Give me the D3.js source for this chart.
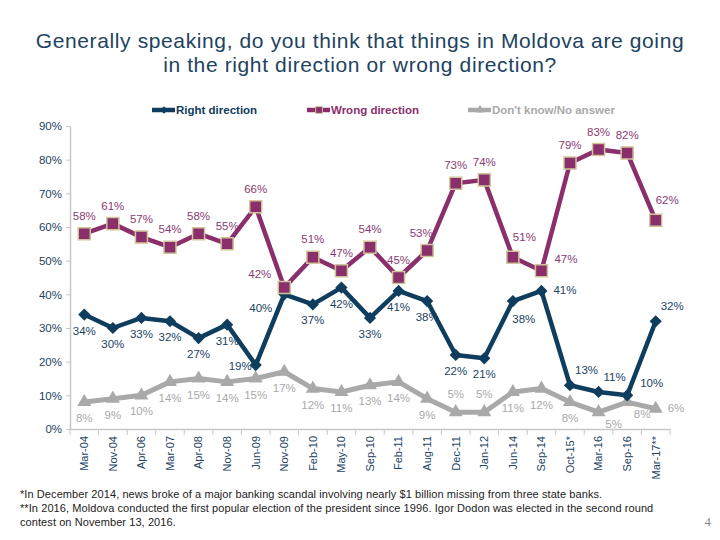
<!DOCTYPE html>
<html><head><meta charset="utf-8">
<script src="https://cdn.jsdelivr.net/npm/d3@7"></script>
<style>
body{margin:0;background:#fff;}
svg{display:block;font-family:"Liberation Sans",Arial,sans-serif;}
</style></head><body>
<svg id="chart" width="720" height="540"></svg>
<script>
const categories = ["Mar-04","Nov-04","Apr-06","Mar-07","Apr-08","Nov-08","Jun-09","Nov-09","Feb-10","May-10","Sep-10","Feb-11","Aug-11","Dec-11","Jan-12","Jun-14","Sep-14","Oct-15*","Mar-16","Sep-16","Mar-17**"];
const rightDirection = [34,30,33,32,27,31,19,40,37,42,33,41,38,22,21,38,41,13,11,10,32];
const wrongDirection = [58,61,57,54,58,55,66,42,51,47,54,45,53,73,74,51,47,79,83,82,62];
const dontKnow = [8,9,10,14,15,14,15,17,12,11,13,14,9,5,5,11,12,8,5,8,6];
const yTicks = [0,10,20,30,40,50,60,70,80,90];
const seriesNames = ["Right direction","Wrong direction","Don't know/No answer"];
// label placement codes
const rightLabelPos = ["b","b","b","b","b","b","l","bl","b","b","b","b","b","b","b","bR","r","ar","ar","ur","ar"];
const wrongLabelPos = ["a","a","a","a","a","a","a","al","a","a","a","a","aL","a","a","as","ur","a","a","a","as"];
const dkLabelPos    = ["b","b","b","b","b","b","b","b","b","b","b","b","b","a","a","b","b","b","br","br","r"];

(function(){
const svg = d3.select("#chart");
const navy = "#0e3d5e", purple = "#8a2f6c", grey = "#a9a9a9";
const pL = 70, pR = 670, pT = 126, pB = 429;

svg.append("text").attr("x",360).attr("y",48).attr("text-anchor","middle").attr("letter-spacing",0.62)
  .attr("fill","#1d4361").attr("font-size",21).text("Generally speaking, do you think that things in Moldova are going");
svg.append("text").attr("x",360).attr("y",72).attr("text-anchor","middle").attr("letter-spacing",0.62)
  .attr("fill","#1d4361").attr("font-size",21).text("in the right direction or wrong direction?");

const x = d3.scaleBand().domain(categories).range([pL,pR]);
const y = d3.scaleLinear().domain([0,90]).range([pB,pT]);
const cx = c => x(c) + x.bandwidth()/2;

// y axis
const yAxis = svg.append("g").attr("transform",`translate(${pL},0)`)
  .call(d3.axisLeft(y).tickValues(yTicks).tickFormat(d=>d+"%").tickSize(4).tickSizeOuter(0));
yAxis.select(".domain").attr("stroke","#c8c8c8").attr("stroke-width",1.5);
yAxis.selectAll(".tick line").attr("stroke","#c8c8c8");
yAxis.selectAll(".tick text").attr("fill","#1d4361").attr("font-size",11.5)
  .attr("font-family","'Liberation Sans',Arial,sans-serif").attr("x",-8);

// x axis
const xAxis = svg.append("g").attr("transform",`translate(0,${pB})`)
  .call(d3.axisBottom(x).tickSize(0).tickSizeOuter(0));
xAxis.select(".domain").attr("stroke","#c8c8c8").attr("stroke-width",1.5);
xAxis.selectAll(".tick text").attr("fill","#1d4361").attr("font-size",11)
  .attr("font-family","'Liberation Sans',Arial,sans-serif")
  .attr("transform","rotate(-90)").attr("text-anchor","end").attr("x",-7).attr("y",0).attr("dy","0.35em");
const bounds = categories.map(c=>x(c)).concat([pR]);
svg.append("g").selectAll("line").data(bounds).join("line")
  .attr("x1",d=>d).attr("x2",d=>d).attr("y1",pB).attr("y2",pB+6)
  .attr("stroke","#c8c8c8").attr("stroke-width",1);

const line = d3.line().x((d,i)=>cx(categories[i])).y(d=>y(d));

const placements = {
  a:  {dx:0,   dy:-14, anchor:"middle"},
  aL: {dx:-6,  dy:-14, anchor:"middle"},
  b:  {dx:0,   dy:20,  anchor:"middle"},
  bR: {dx:11,  dy:22,  anchor:"middle"},
  l:  {dx:-4,  dy:5,   anchor:"end"},
  r:  {dx:12,  dy:3,   anchor:"start"},
  al: {dx:-13, dy:-10, anchor:"end"},
  bl: {dx:-12, dy:18,  anchor:"end"},
  ar: {dx:5,   dy:-11, anchor:"start"},
  as: {dx:0,   dy:-16, anchor:"start"},
  ur: {dx:13,  dy:-8,  anchor:"start"},
  br: {dx:15,  dy:16,  anchor:"middle"}
};

function drawSeries(vals, color, symbolType, size, labelColor, pos, stroke, lw){
  const g = svg.append("g");
  g.append("path").datum(vals).attr("d",line).attr("fill","none")
    .attr("stroke",color).attr("stroke-width",lw).attr("stroke-linejoin","round");
  g.selectAll("path.m").data(vals).join("path").attr("class","m")
    .attr("d",d3.symbol().type(symbolType).size(size))
    .attr("transform",(d,i)=>`translate(${cx(categories[i])},${y(d)})`)
    .attr("fill",color).attr("stroke",stroke||"none").attr("stroke-width",stroke?1.5:0);
  g.selectAll("text").data(vals).join("text")
    .attr("x",(d,i)=>cx(categories[i])+placements[pos[i]].dx)
    .attr("y",(d,i)=>y(d)+placements[pos[i]].dy)
    .attr("text-anchor",(d,i)=>placements[pos[i]].anchor)
    .attr("fill",labelColor).attr("font-size",11.5)
    .text(d=>d+"%");
}
drawSeries(dontKnow, grey, d3.symbolTriangle, 85, "#a9a9a9", dkLabelPos, null, 5);
drawSeries(rightDirection, navy, d3.symbolDiamond2 || d3.symbolDiamond, 95, "#1a4363", rightLabelPos, null, 4.5);
drawSeries(wrongDirection, purple, d3.symbolSquare, 145, "#8a3a72", wrongLabelPos, "#cfc49a", 4.5);

// legend
const legendX = [152,307,468];
const legendColors = [navy,purple,grey];
const legendSymbols = [d3.symbolDiamond2 || d3.symbolDiamond,d3.symbolSquare,d3.symbolTriangle];
const lg = svg.append("g");
seriesNames.forEach((n,i)=>{
  const lx = legendX[i];
  lg.append("line").attr("x1",lx).attr("x2",lx+23).attr("y1",110).attr("y2",110)
    .attr("stroke",legendColors[i]).attr("stroke-width",4.5);
  lg.append("path").attr("d",d3.symbol().type(legendSymbols[i]).size(i===1?45:35)())
    .attr("transform",`translate(${lx+12},110)`).attr("fill",legendColors[i])
    .attr("stroke",i===1?"#cfc49a":"none").attr("stroke-width",1);
  lg.append("text").attr("x",lx+24).attr("y",114).attr("fill",legendColors[i])
    .attr("font-size",11.5).attr("font-weight","bold").text(n);
});

// footnotes
const notes = ["*In December 2014, news broke of a major banking scandal involving nearly $1 billion missing from three state banks.",
"**In 2016, Moldova conducted the first popular election of the president since 1996. Igor Dodon was elected in the second round",
"contest on November 13, 2016."];
notes.forEach((t,i)=>svg.append("text").attr("x",20).attr("y",498+i*14).attr("fill","#222")
  .attr("font-size",11).attr("letter-spacing",0.08).text(t));
svg.append("text").attr("x",711).attr("y",526).attr("text-anchor","end").attr("fill","#888")
  .attr("font-size",13).attr("font-family","'Liberation Serif',serif").text("4");
})();
</script>
</body></html>
